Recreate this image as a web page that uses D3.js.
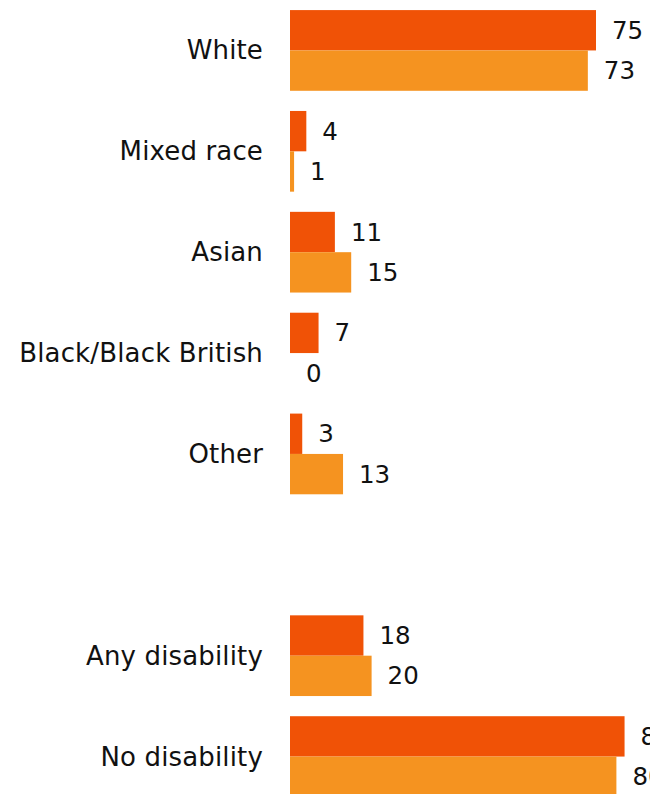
<!DOCTYPE html>
<html>
<head>
<meta charset="utf-8">
<script src="https://cdn.jsdelivr.net/npm/d3@7"></script>
<style>
  body { margin: 0; background: #fff; }
  svg { display: block; }
  text { font-family: "DejaVu Sans", Verdana, sans-serif; fill: #111; }
</style>
</head>
<body>
<svg id="chart" width="650" height="794"></svg>
<script>
const categories = ["White", "Mixed race", "Asian", "Black/Black British", "Other", "", "Any disability", "No disability"];
const series1 = [75, 4, 11, 7, 3, null, 18, 82];
const series2 = [73, 1, 15, 0, 13, null, 20, 80];
const colors = ["#f05206", "#f59320"];

const svg = d3.select("#chart");
const x0 = 290;
const x = d3.scaleLinear().domain([0, 75]).range([x0, 596]);
const y = d3.scaleBand().domain(categories).range([0, 807]).paddingInner(0.2).paddingOuter(0.1);
const bw = y.bandwidth() / 2;

const rows = categories.map((c, i) => ({ c, v: [series1[i], series2[i]] })).filter(d => d.c !== "");

const g = svg.selectAll("g.row").data(rows).join("g").attr("class", "row")
  .attr("transform", d => `translate(0,${y(d.c)})`);

g.append("text")
  .attr("x", 263)
  .attr("y", y.bandwidth() / 2)
  .attr("text-anchor", "end")
  .attr("dominant-baseline", "central")
  .style("font-size", "26px")
  .style("letter-spacing", "0.15px")
  .text(d => d.c);

[0, 1].forEach(k => {
  g.append("rect")
    .attr("x", x0)
    .attr("y", k * bw)
    .attr("width", d => x(d.v[k]) - x0)
    .attr("height", bw)
    .attr("fill", colors[k]);
  g.append("text")
    .attr("x", d => x(d.v[k]) + 16)
    .attr("y", k * bw + bw / 2)
    .attr("dominant-baseline", "central")
    .style("font-size", "24.5px")
    .text(d => d.v[k]);
});
</script>
</body>
</html>
